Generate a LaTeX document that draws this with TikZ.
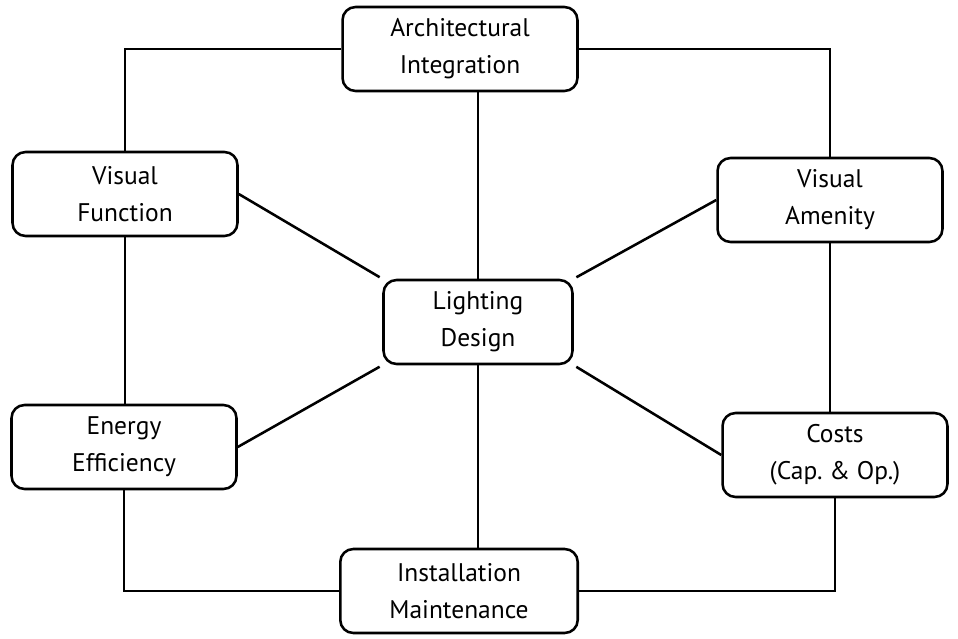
\documentclass[tikz,border=0pt]{standalone}
\usepackage{fontspec}
\setmainfont{PT Sans}
\tikzset{
  box/.style={draw, line width=1.45pt, rounded corners=2.6mm, align=center,
    font=\fontsize{14.5}{21}\selectfont, inner sep=0pt,
    minimum width=4.5cm, minimum height=1.68cm},
  link/.style={line width=1.45pt}
}
\begin{document}
\begin{tikzpicture}[x=0.02cm,y=-0.02cm]
\useasboundingbox (0,0) rectangle (958,639);
% the seven boxes
\node[box, minimum width=4.7cm] (arch) at (460,49) {Architectural\\Integration};
\node[box] (vfun) at (125,194) {Visual\\Function};
\node[box] (vamen) at (830,200) {Visual\\Amenity};
\node[box, minimum width=3.78cm] (light) at (478,322) {Lighting\\Design};
\node[box] (energy) at (124,447) {Energy\\Efficiency};
\node[box] (costs) at (835,455) {Costs\\(Cap.\ \& Op.)};
\node[box, minimum width=4.75cm] (inst) at (459,591) {Installation\\Maintenance};
% outer ring
\draw[link] (arch.west) -| (vfun.north);
\draw[link] (arch.east) -| (vamen.north);
\draw[link] (vfun.south) -- (energy.north -| vfun.south);
\draw[link] (vamen.south) -- (costs.north -| vamen.south);
\draw[link] (energy.south) |- (inst.west);
\draw[link] (costs.south) |- (inst.east);
% spokes
\draw[link] (light.north) -- (light.north |- arch.south);
\draw[link] (light.south) -- (light.south |- inst.north);
\draw[link, shorten <=0.6mm] (light.north west) -- (vfun.east);
\draw[link, shorten <=0.6mm] (light.north east) -- (vamen.west);
\draw[link, shorten <=0.6mm] (light.south west) -- (energy.east);
\draw[link, shorten <=0.6mm] (light.south east) -- (costs.west);
\end{tikzpicture}
\end{document}
